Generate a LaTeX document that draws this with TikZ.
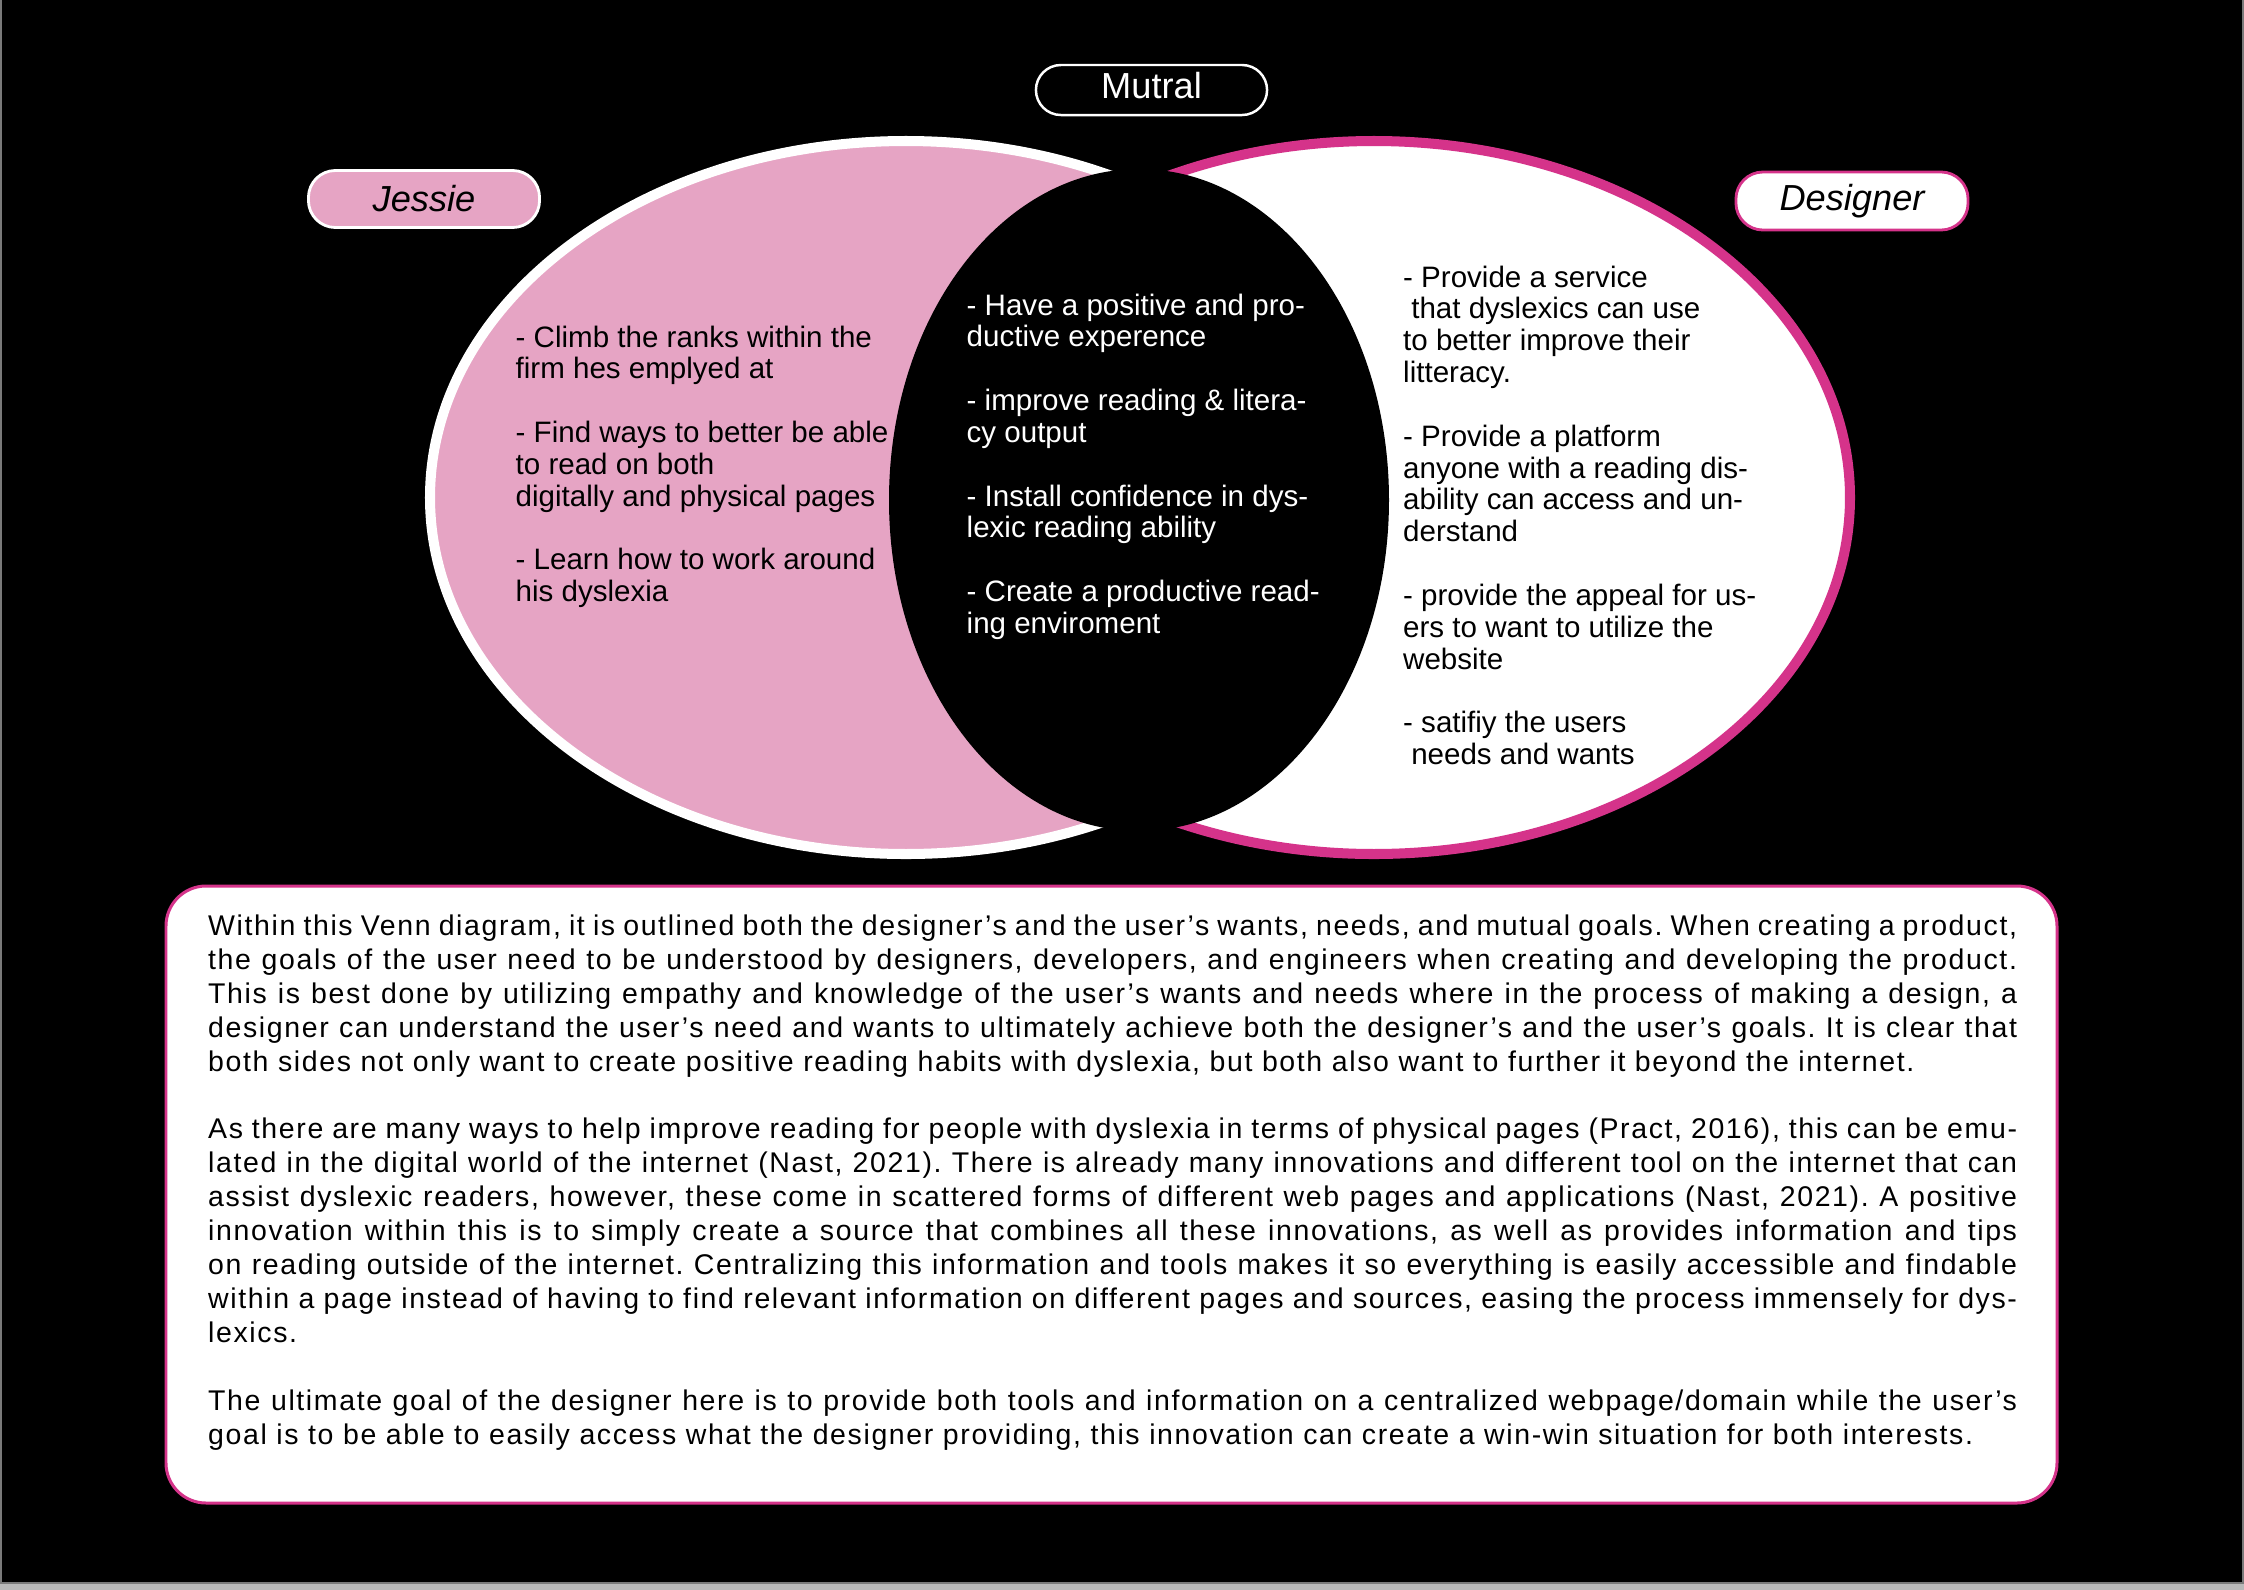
\documentclass[tikz,border=0pt]{standalone}
\usepackage{fontspec}
\setmainfont{Liberation Sans}
\newfontfamily\bodyfont[LetterSpace=5.7]{Liberation Sans}
\setlength{\parindent}{0pt}
\definecolor{pinkfill}{HTML}{E6A4C4}
\definecolor{vmag}{HTML}{D5338A}
\definecolor{bggray}{HTML}{B9B9B9}
\definecolor{edgegray}{HTML}{7A7A7A}
\tikzset{
  venntext/.style={anchor=north west, inner sep=0pt, align=left,
    font=\fontsize{8.4}{9.05}\selectfont},
  labelbox/.style={rounded corners=0.27cm, minimum width=2.31cm, minimum height=0.57cm,
    inner sep=0pt, line width=0.8pt, font=\fontsize{10.3}{12}\selectfont\itshape, text=black},
  bodytext/.style={anchor=north west, inner sep=0pt, text width=18.08cm, align=justify,
    font=\bodyfont\fontsize{8.1}{9.65}\selectfont}
}
\begin{document}
\begin{tikzpicture}[x=0.01cm, y=-0.01cm]
\useasboundingbox (0,0) rectangle (2244,1590);
% page background
\fill[bggray] (0,0) rectangle (2244,1590);
\fill[black] (1.5,0) rectangle (2242.5,1582.5);
\draw[edgegray, line width=0.3pt] (1,0) -- (1,1583);
\draw[edgegray, line width=0.3pt] (2243,0) -- (2243,1583);
\draw[edgegray, line width=0.3pt] (0,1583) -- (2244,1583);
% Venn circles
\draw[draw=white, fill=pinkfill, line width=2.85pt] (906,497.5) ellipse [x radius=476, y radius=356.5];
\draw[draw=vmag, fill=white, line width=2.85pt] (1374,497.5) ellipse [x radius=476, y radius=356.5];
\fill[black] (1139,500) ellipse [x radius=250, y radius=331];
% labels
\node[labelbox, draw=white, fill=black, text=white, font=\fontsize{10.3}{12}\selectfont,
  minimum height=0.50cm, rounded corners=0.25cm, line width=0.7pt, text depth=0.9mm] (mutral) at (1151.5,90) {Mutral};
\node[labelbox, draw=white, fill=pinkfill] (jessie) at (424,199) {Jessie};
\node[labelbox, draw=vmag, fill=white, minimum width=2.32cm, minimum height=0.58cm] (designer) at (1852,201) {Designer};
% Venn texts
\node[venntext, text=black] (lefttext) at (515,325) {%
- Climb the ranks within the\\
firm hes emplyed at\\[9.05pt]
- Find ways to better be able\\
to read on both\\
digitally and physical pages\\[9.05pt]
- Learn how to work around\\
his dyslexia};
\node[venntext, text=white] (midtext) at (966,293) {%
- Have a positive and pro-\\
ductive experence\\[9.05pt]
- improve reading \& litera-\\
cy output\\[9.05pt]
- Install confidence in dys-\\
lexic reading ability\\[9.05pt]
- Create a productive read-\\
ing enviroment};
\node[venntext, text=black] (righttext) at (1402.5,265) {%
- Provide a service\\
\hspace*{2.3pt}that dyslexics can use\\
to better improve their\\
litteracy.\\[9.05pt]
- Provide a platform\\
anyone with a reading dis-\\
ability can access and un-\\
derstand\\[9.05pt]
- provide the appeal for us-\\
ers to want to utilize the\\
website\\[9.05pt]
- satifiy the users\\
\hspace*{2.3pt}needs and wants};
% bottom box
\draw[draw=vmag, fill=white, line width=0.85pt, rounded corners=0.4cm] (166,886) rectangle (2057,1503);
\node[bodytext] (para) at (207.5,914) {\tolerance=10000\hyphenpenalty=10000\frenchspacing\parskip=9.65pt
Within this Venn diagram, it is outlined both the designer’s and the user’s wants, needs, and mutual goals. When creating a product,\linebreak
the goals of the user need to be understood by designers, developers, and engineers when creating and developing the product.\linebreak
This is best done by utilizing empathy and knowledge of the user’s wants and needs where in the process of making a design, a\linebreak
designer can understand the user’s need and wants to ultimately achieve both the designer’s and the user’s goals. It is clear that\linebreak
both sides not only want to create positive reading habits with dyslexia, but both also want to further it beyond the internet.\par
As there are many ways to help improve reading for people with dyslexia in terms of physical pages (Pract, 2016), this can be emu-\linebreak
lated in the digital world of the internet (Nast, 2021). There is already many innovations and different tool on the internet that can\linebreak
assist dyslexic readers, however, these come in scattered forms of different web pages and applications (Nast, 2021). A positive\linebreak
innovation within this is to simply create a source that combines all these innovations, as well as provides information and tips\linebreak
on reading outside of the internet. Centralizing this information and tools makes it so everything is easily accessible and findable\linebreak
within a page instead of having to find relevant information on different pages and sources, easing the process immensely for dys-\linebreak
lexics.\par
The ultimate goal of the designer here is to provide both tools and information on a centralized webpage/domain while the user’s\linebreak
goal is to be able to easily access what the designer providing, this innovation can create a win-win situation for both interests.};
\end{tikzpicture}
\end{document}
